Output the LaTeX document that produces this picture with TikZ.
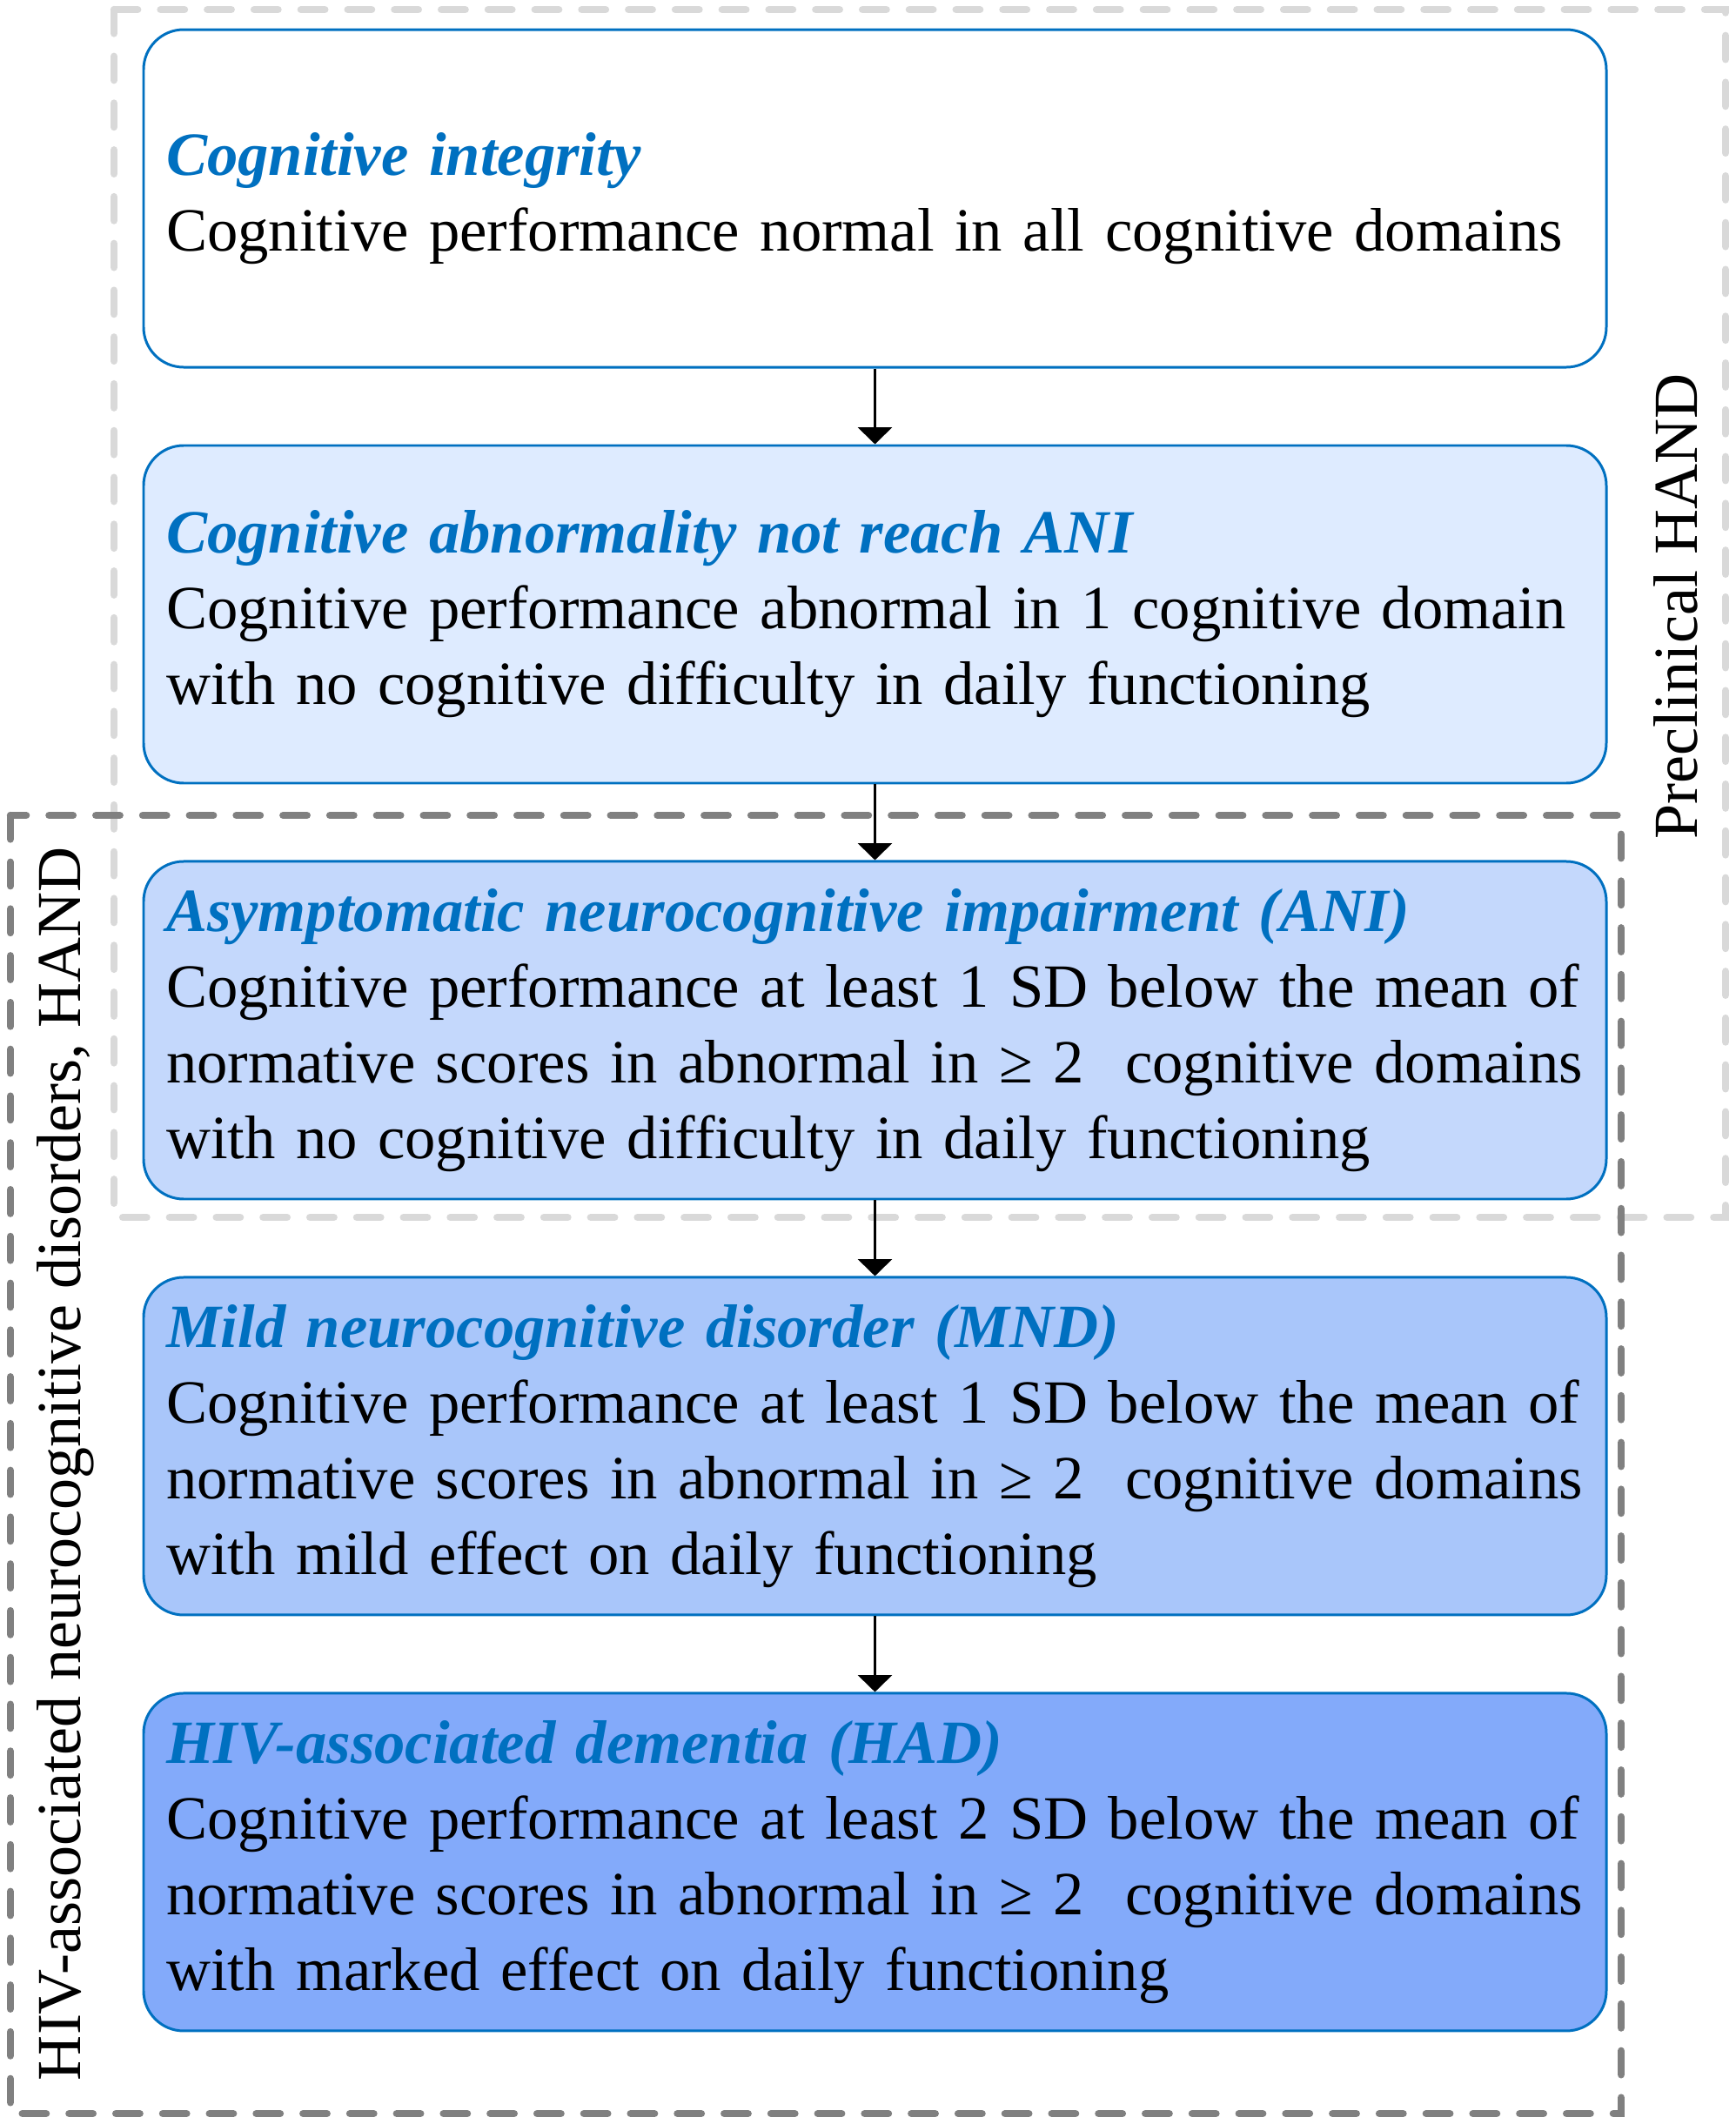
\documentclass[tikz,border=0pt]{standalone}
\usepackage{fontspec}
\setmainfont{Liberation Serif}
\usetikzlibrary{positioning,arrows.meta}

\definecolor{handblue}{RGB}{0,112,192}
\definecolor{fillpre}{RGB}{222,235,255}
\definecolor{fillani}{RGB}{196,216,252}
\definecolor{fillmnd}{RGB}{169,198,250}
\definecolor{fillhad}{RGB}{131,170,250}
\definecolor{zonelight}{RGB}{217,217,217}
\definecolor{zonedark}{RGB}{128,128,128}

\newcommand{\stagetitle}[1]{{\color{handblue}\bfseries\itshape #1}}
\newcommand{\stagefont}{\fontsize{20.1}{24.75}\selectfont\hyphenpenalty=10000\relax}

\tikzset{
  stage/.style={draw=handblue, line width=0.85pt, rounded corners=0.46cm,
    minimum width=16.81cm, minimum height=3.88cm, text width=16.29cm,
    inner xsep=0.26cm, inner ysep=0pt, align=left, font=\stagefont},
  flow/.style={-{Triangle[width=11pt,length=5.5pt]}, line width=1.1pt},
  zone/.style={dash pattern=on 7.8pt off 7.5pt, line width=2.4pt, line cap=round},
  zonelabel/.style={rotate=90, anchor=base, font=\fontsize{20.5}{24.75}\selectfont}
}

\begin{document}
\begin{tikzpicture}[node distance=0.87cm]
\useasboundingbox (0,0) rectangle (19.95,-24.41);

% dashed groups
\draw[zone, zonelight] (1.31,-0.11) rectangle (19.83,-13.99);
\draw[zone, zonedark] (0.12,-9.37) rectangle (18.63,-24.29);

\node (integ) at (10.055,-2.28) [stage, fill=white]
  {\stagetitle{Cognitive integrity}\\
   Cognitive performance normal in all cognitive domains};
\node (subani) [stage, fill=fillpre, below=of integ]
  {\stagetitle{Cognitive abnormality not reach ANI}\\
   \mbox{Cognitive performance abnormal in 1 cognitive domain}\\
   with no cognitive difficulty in daily functioning};
\node (ani) [stage, fill=fillani, below=of subani]
  {\stagetitle{Asymptomatic neurocognitive impairment (ANI)}\\
   \mbox{Cognitive performance at least 1 SD below the mean of}\\
   \mbox{normative scores in abnormal in ≥ 2\ \ cognitive domains}\\
   with no cognitive difficulty in daily functioning};
\node (mnd) [stage, fill=fillmnd, below=of ani]
  {\stagetitle{Mild neurocognitive disorder (MND)}\\
   \mbox{Cognitive performance at least 1 SD below the mean of}\\
   \mbox{normative scores in abnormal in ≥ 2\ \ cognitive domains}\\
   with mild effect on daily functioning};
\node (had) [stage, fill=fillhad, below=of mnd]
  {\stagetitle{HIV-associated dementia (HAD)}\\
   \mbox{Cognitive performance at least 2 SD below the mean of}\\
   \mbox{normative scores in abnormal in ≥ 2\ \ cognitive domains}\\
   with marked effect on daily functioning};

\node (prelab) at (19.50,-6.97) [zonelabel] {Preclinical HAND};
\node (handlab) at (0.92,-16.82) [zonelabel] {HIV-associated neurocognitive disorders, HAND};

\draw[flow] (integ) -- (subani);
\draw[flow] (subani) -- (ani);
\draw[flow] (ani) -- (mnd);
\draw[flow] (mnd) -- (had);
\end{tikzpicture}
\end{document}
